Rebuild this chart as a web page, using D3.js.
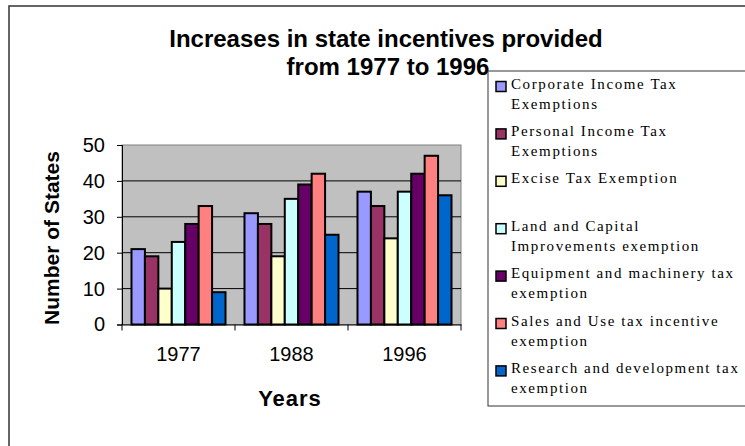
<!DOCTYPE html>
<html>
<head>
<meta charset="utf-8">
<script src="https://cdn.jsdelivr.net/npm/d3@7"></script>
<style>
  body { margin: 0; background: #fff; }
  svg { display: block; }
</style>
</head>
<body>
<svg id="chart"></svg>
<script>
const years = ["1977", "1988", "1996"];
const seriesNames = [
  ["Corporate Income Tax", "Exemptions"],
  ["Personal Income Tax", "Exemptions"],
  ["Excise Tax Exemption", ""],
  ["Land and Capital", "Improvements exemption"],
  ["Equipment and machinery tax", "exemption"],
  ["Sales and Use tax incentive", "exemption"],
  ["Research and development tax", "exemption"]
];
const seriesColors = ["#9999FF", "#993366", "#FFFFCC", "#CCFFFF", "#660066", "#FF8080", "#0066CC"];
// values per series, one per year
const corporate = [21, 31, 37];
const personal = [19, 28, 33];
const excise = [10, 19, 24];
const land = [23, 35, 37];
const equipment = [28, 39, 42];
const sales = [33, 42, 47];
const research = [9, 25, 36];
const yTicks = [0, 10, 20, 30, 40, 50];

const allSeries = [corporate, personal, excise, land, equipment, sales, research];

const width = 745;
const height = 446;
const plot = { left: 122, right: 461, top: 145, bottom: 324.5 };

const svg = d3.select("svg#chart")
  .attr("width", width)
  .attr("height", height);

// outer frame
svg.append("path")
  .attr("d", `M9,${height + 2}V6H${width + 2}`)
  .attr("fill", "none")
  .attr("stroke", "#333")
  .attr("stroke-width", 1.5);

const x0 = d3.scaleBand()
  .domain(years)
  .range([plot.left, plot.right]);

const gap = x0.bandwidth() * 0.084;
const x1 = d3.scaleBand()
  .domain(d3.range(allSeries.length))
  .range([gap, x0.bandwidth() - gap]);

const y = d3.scaleLinear()
  .domain([0, 50])
  .range([plot.bottom, plot.top]);

// plot background
svg.append("rect")
  .attr("x", plot.left)
  .attr("y", plot.top)
  .attr("width", plot.right - plot.left)
  .attr("height", plot.bottom - plot.top)
  .attr("fill", "#C0C0C0")
  .attr("stroke", "#808080")
  .attr("stroke-width", 1);

// gridlines
svg.append("g")
  .selectAll("line")
  .data(yTicks.filter(d => d > 0 && d < 50))
  .enter()
  .append("line")
  .attr("x1", plot.left)
  .attr("x2", plot.right)
  .attr("y1", d => y(d))
  .attr("y2", d => y(d))
  .attr("stroke", "#000")
  .attr("stroke-width", 1);

// bars
const groups = svg.append("g")
  .selectAll("g")
  .data(years)
  .enter()
  .append("g")
  .attr("transform", d => "translate(" + x0(d) + ",0)");

groups.selectAll("rect")
  .data((yr, i) => allSeries.map((s, k) => ({ k: k, v: s[i] })))
  .enter()
  .append("rect")
  .attr("x", d => x1(d.k))
  .attr("y", d => y(d.v))
  .attr("width", x1.bandwidth())
  .attr("height", d => y(0) - y(d.v))
  .attr("fill", d => seriesColors[d.k])
  .attr("stroke", "#000")
  .attr("stroke-width", 2);

// y axis
const yAxis = d3.axisLeft(y).tickValues(yTicks).tickSize(5).tickPadding(12);
const gy = svg.append("g")
  .attr("transform", "translate(" + plot.left + ",0)")
  .call(yAxis);
gy.select(".domain").attr("stroke", "#000");
gy.selectAll("text")
  .attr("font-family", "Liberation Sans, Arial, sans-serif")
  .attr("font-size", 20)
  .attr("fill", "#000");

// x axis
const xAxis = d3.axisBottom(x0).tickSize(0).tickPadding(22);
const gx = svg.append("g")
  .attr("transform", "translate(0," + plot.bottom + ")")
  .call(xAxis);
gx.select(".domain").attr("stroke", "#000");
gx.selectAll("text")
  .attr("font-family", "Liberation Sans, Arial, sans-serif")
  .attr("font-size", 20)
  .attr("fill", "#000");
gx.selectAll("line.sep")
  .data([plot.left].concat(years.map(d => x0(d) + x0.bandwidth())))
  .enter()
  .append("line")
  .attr("class", "sep")
  .attr("x1", d => d)
  .attr("x2", d => d)
  .attr("y1", 0)
  .attr("y2", 6)
  .attr("stroke", "#000");

// titles
const title = svg.append("text")
  .attr("text-anchor", "middle")
  .attr("font-family", "Liberation Sans, Arial, sans-serif")
  .attr("font-weight", "bold")
  .attr("font-size", 24)
  .attr("fill", "#000");
title.append("tspan").attr("x", 386).attr("y", 47).text("Increases in state incentives provided");
title.append("tspan").attr("x", 388).attr("y", 75).text("from 1977 to 1996");

svg.append("text")
  .attr("transform", "translate(59,238) rotate(-90)")
  .attr("text-anchor", "middle")
  .attr("font-family", "Liberation Sans, Arial, sans-serif")
  .attr("font-weight", "bold")
  .attr("font-size", 21)
  .text("Number of States");

svg.append("text")
  .attr("x", 290)
  .attr("y", 406)
  .attr("text-anchor", "middle")
  .attr("font-family", "Liberation Sans, Arial, sans-serif")
  .attr("font-weight", "bold")
  .attr("font-size", 22)
  .attr("letter-spacing", 1)
  .text("Years");

// legend
const legend = svg.append("g");
legend.append("rect")
  .attr("x", 488)
  .attr("y", 71)
  .attr("width", 270)
  .attr("height", 335)
  .attr("fill", "#fff")
  .attr("stroke", "#333")
  .attr("stroke-width", 1);

const items = legend.selectAll("g.item")
  .data(seriesNames)
  .enter()
  .append("g")
  .attr("class", "item")
  .attr("transform", (d, i) => "translate(0," + (88.5 + i * 47.4) + ")");

items.append("rect")
  .attr("x", 496)
  .attr("y", -7)
  .attr("width", 10)
  .attr("height", 10)
  .attr("fill", (d, i) => seriesColors[i])
  .attr("stroke", "#000")
  .attr("stroke-width", 1.5);

const lt = items.append("text")
  .attr("font-family", "Liberation Serif, Times New Roman, serif")
  .attr("font-size", 15)
  .attr("letter-spacing", 1.6)
  .attr("fill", "#000");
lt.append("tspan").attr("x", 511).attr("y", 0).text(d => d[0]);
lt.append("tspan").attr("x", 511).attr("y", 20).text(d => d[1]);
</script>
</body>
</html>
